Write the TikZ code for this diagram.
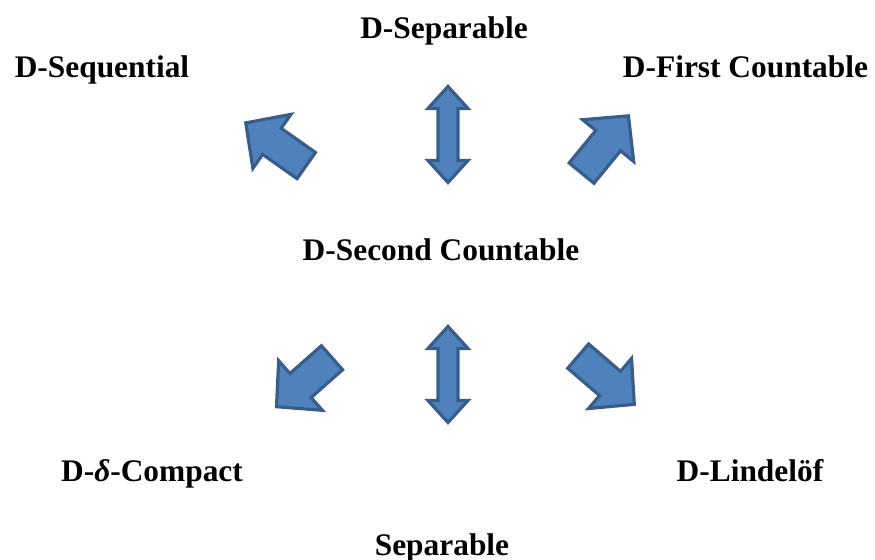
\documentclass[tikz,border=0pt]{standalone}
\usepackage{fontspec}
\setmainfont{Liberation Serif}
\definecolor{arrowfill}{HTML}{4F81BD}
\definecolor{arrowline}{HTML}{385D8A}
\tikzset{
  lbl/.style={font=\fontsize{15.7}{18}\selectfont\bfseries, anchor=base, inner sep=0pt},
  blk/.style={fill=arrowfill, draw=arrowline, line width=1.6pt},
  pics/onearrow/.style={code={
    \draw[blk] (-37,-16) -- (5,-16) -- (5,-33) -- (37,0) -- (5,33) -- (5,16) -- (-37,16) -- cycle;
  }},
  pics/twoarrow/.style={code={
    \draw[blk] (0,48) -- (20,26) -- (10,26) -- (10,-26) -- (20,-26) -- (0,-48)
      -- (-20,-26) -- (-10,-26) -- (-10,26) -- (-20,26) -- cycle;
  }}
}
\begin{document}
\begin{tikzpicture}[x=0.5pt, y=0.5pt]

    \useasboundingbox (0,0) rectangle (875,560);

    \node[lbl] (dsep) at (444, 521) {D-Separable};
    \node[lbl] (dseq) at (102, 482) {D-Sequential};
    \node[lbl] (dfc) at (745.5, 482) {D-First Countable};
    \node[lbl] (dsc) at (441, 299) {D-Second Countable};
    \node[lbl] (ddc) at (152, 78) {D-\textit{δ}-Compact};
    \node[lbl] (dlin) at (750, 78) {D-Lindel\"of};
    \node[lbl] (sep) at (442, 4) {Separable};

    \pic[rotate=144.8] (toseq) at (276, 415.75) {onearrow};
    \pic (tosep) at (448, 425.5) {twoarrow};
    \pic[rotate=50.7] (tofc) at (605, 415.5) {onearrow};

    \pic[rotate=221.4] (todc) at (304.25, 177.75) {onearrow};
    \pic (toseparable) at (448, 185.5) {twoarrow};
    \pic[rotate=-40.7] (tolin) at (606.25, 179.75) {onearrow};

  \end{tikzpicture}
\end{document}
